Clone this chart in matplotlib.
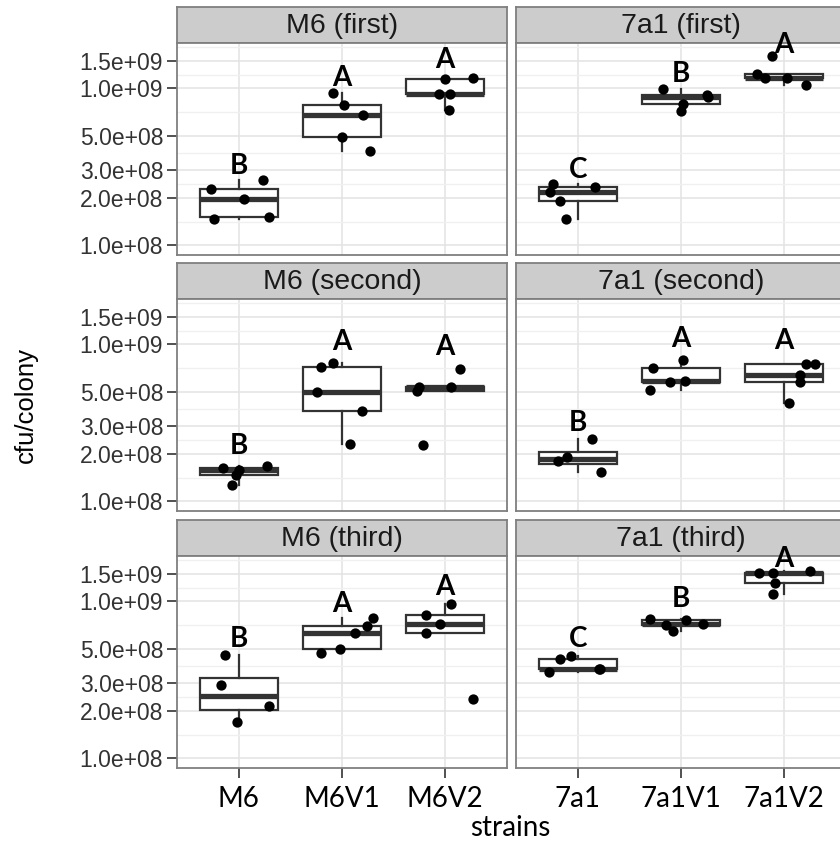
import numpy as np
import matplotlib
matplotlib.use("Agg")
import matplotlib.pyplot as plt
from matplotlib import cbook
from matplotlib.ticker import NullFormatter

# ---------------- data ----------------
strains_m6 = ["M6", "M6V1", "M6V2"]
strains_7a1 = ["7a1", "7a1V1", "7a1V2"]
experiments = ["first", "second", "third"]

# M6 group
m6_first = [[2.29e8, 2.59e8, 1.96e8, 1.46e8, 1.52e8],
            [9.40e8, 7.80e8, 6.78e8, 4.88e8, 3.99e8],
            [1.15e9, 1.16e9, 9.20e8, 9.22e8, 7.26e8]]
m6_first_jit = [[-0.27, 0.23, 0.05, -0.24, 0.29],
                [-0.09, 0.02, 0.20, 0.00, 0.27],
                [0.00, 0.27, -0.06, 0.05, 0.04]]
m6_first_letters = ["B", "A", "A"]
m6_first_letter_y = [3.22e8, 1.16e9, 1.53e9]

m6_second = [[1.63e8, 1.67e8, 1.57e8, 1.46e8, 1.26e8],
             [7.21e8, 7.64e8, 4.97e8, 3.75e8, 2.30e8],
             [6.92e8, 5.34e8, 5.08e8, 5.36e8, 2.28e8]]
m6_second_jit = [[-0.15, 0.27, 0.00, -0.03, -0.07],
                 [-0.20, -0.09, -0.24, 0.19, 0.08],
                 [0.14, -0.25, -0.27, 0.06, -0.21]]
m6_second_letters = ["B", "A", "A"]
m6_second_letter_y = [2.24e8, 1.03e9, 9.66e8]

m6_third = [[4.54e8, 2.93e8, 2.15e8, 1.71e8],
            [4.66e8, 4.95e8, 6.28e8, 6.97e8, 7.87e8],
            [9.66e8, 8.22e8, 7.21e8, 6.32e8, 2.37e8]]
m6_third_jit = [[-0.13, -0.17, 0.29, -0.02],
                [-0.20, -0.02, 0.13, 0.24, 0.30],
                [0.06, -0.19, -0.05, -0.19, 0.27]]
m6_third_letters = ["B", "A", "A"]
m6_third_letter_y = [5.80e8, 9.66e8, 1.23e9]

# 7a1 group
s7a1_first = [[2.47e8, 2.19e8, 2.35e8, 1.92e8, 1.47e8],
              [9.86e8, 9.10e8, 8.85e8, 7.93e8, 7.13e8],
              [1.60e9, 1.24e9, 1.16e9, 1.16e9, 1.05e9]]
s7a1_first_jit = [[-0.24, -0.27, 0.17, -0.17, -0.12],
                  [-0.17, 0.25, 0.26, 0.02, 0.00],
                  [-0.12, -0.26, -0.19, 0.03, 0.21]]
s7a1_first_letters = ["C", "B", "A"]
s7a1_first_letter_y = [3.00e8, 1.24e9, 1.90e9]

s7a1_second = [[2.50e8, 1.92e8, 1.80e8, 1.53e8],
               [7.03e8, 7.94e8, 5.74e8, 5.81e8, 5.11e8],
               [7.53e8, 7.55e8, 6.34e8, 5.74e8, 4.25e8]]
s7a1_second_jit = [[0.14, -0.11, -0.19, 0.22],
                   [-0.27, 0.02, -0.11, 0.04, -0.30],
                   [0.21, 0.30, 0.15, 0.15, 0.05]]
s7a1_second_letters = ["B", "A", "A"]
s7a1_second_letter_y = [3.16e8, 1.09e9, 1.05e9]

s7a1_third = [[4.28e8, 4.49e8, 3.56e8, 3.70e8, 3.73e8],
              [7.76e8, 7.03e8, 6.44e8, 7.57e8, 7.21e8],
              [1.52e9, 1.52e9, 1.57e9, 1.31e9, 1.12e9]]
s7a1_third_jit = [[-0.17, -0.07, -0.28, 0.21, 0.20],
                  [-0.30, -0.15, -0.08, 0.05, 0.21],
                  [-0.24, -0.11, 0.25, -0.09, -0.11]]
s7a1_third_letters = ["C", "B", "A"]
s7a1_third_letter_y = [5.73e8, 1.04e9, 1.87e9]

y_ticks = [1.0e8, 2.0e8, 3.0e8, 5.0e8, 1.0e9, 1.5e9]
y_tick_labels = ["1.0e+08", "2.0e+08", "3.0e+08", "5.0e+08", "1.0e+09", "1.5e+09"]
y_limits = (8.65e7, 1.95e9)

panels = [
    [("M6 (first)", strains_m6, m6_first, m6_first_jit, m6_first_letters, m6_first_letter_y),
     ("7a1 (first)", strains_7a1, s7a1_first, s7a1_first_jit, s7a1_first_letters, s7a1_first_letter_y)],
    [("M6 (second)", strains_m6, m6_second, m6_second_jit, m6_second_letters, m6_second_letter_y),
     ("7a1 (second)", strains_7a1, s7a1_second, s7a1_second_jit, s7a1_second_letters, s7a1_second_letter_y)],
    [("M6 (third)", strains_m6, m6_third, m6_third_jit, m6_third_letters, m6_third_letter_y),
     ("7a1 (third)", strains_7a1, s7a1_third, s7a1_third_jit, s7a1_third_letters, s7a1_third_letter_y)],
]

# ---------------- layout ----------------
W, H = 840, 848
fig = plt.figure(figsize=(W / 100, H / 100), dpi=100)


def rect(x0, top, w, h):
    return [x0 / W, 1 - (top + h) / H, w / W, h / H]


col_x = [177, 516]
panel_w = 330
panel_tops = [43, 299, 556]
panel_h = 212
strip_h = 36

HELV = ["Liberation Sans", "DejaVu Sans"]
CAL = ["Lato", "DejaVu Sans"]
border = "#7F7F7F"

# minor grid positions (geometric midpoints between major ticks, ggplot style)
logs = np.log10(y_ticks)
minor_logs = list((logs[:-1] + logs[1:]) / 2) + [logs[-1] + (logs[-1] - logs[-2]) / 2]
minor_vals = [10 ** v for v in minor_logs]

for r, row in enumerate(panels):
    for c, (title, cats, data, jit, letters, letter_y) in enumerate(row):
        # strip
        sax = fig.add_axes(rect(col_x[c], panel_tops[r] - strip_h, panel_w, strip_h))
        sax.set_facecolor("#CCCCCC")
        sax.set_xticks([])
        sax.set_yticks([])
        for sp in sax.spines.values():
            sp.set_color(border)
            sp.set_linewidth(1.3)
        sax.text(0.5, 0.47, title, ha="center", va="center", fontsize=20.5,
                 color="#1A1A1A", family=HELV, transform=sax.transAxes)
        sax.set_zorder(1)

        ax = fig.add_axes(rect(col_x[c], panel_tops[r], panel_w, panel_h))
        ax.set_zorder(2)
        ax.set_yscale("log")
        ax.set_ylim(*y_limits)
        ax.set_xlim(0.4, 3.6)
        positions = np.arange(1, len(cats) + 1)

        # boxplot stats computed on log10 scale (as ggplot with log10 scale)
        stats = []
        for vals in data:
            st = cbook.boxplot_stats(np.log10(vals), whis=1.5)[0]
            for k in ("med", "q1", "q3", "whislo", "whishi", "mean"):
                st[k] = 10 ** st[k]
            st["fliers"] = []
            stats.append(st)
        ax.bxp(stats, positions=positions, widths=0.75, showfliers=False,
               showcaps=False, patch_artist=True,
               boxprops=dict(facecolor="white", edgecolor="#333333", linewidth=1.6),
               medianprops=dict(color="#333333", linewidth=3.8, solid_capstyle="butt"),
               whiskerprops=dict(color="#333333", linewidth=1.6),
               zorder=2)

        for i, (vals, js) in enumerate(zip(data, jit)):
            ax.scatter(positions[i] + np.array(js), vals, s=55, color="black",
                       zorder=4, linewidths=0)

        for i, (lt, ly) in enumerate(zip(letters, letter_y)):
            ax.text(positions[i], ly, lt, ha="center", va="center", fontsize=20,
                    fontweight="bold", family=CAL, color="black",
                    clip_on=False, zorder=10)

        # grids
        ax.set_yticks(y_ticks)
        ax.set_yticks(minor_vals, minor=True)
        ax.yaxis.set_minor_formatter(NullFormatter())
        ax.set_xticks(positions)
        ax.grid(which="major", color="#E3E3E3", linewidth=1.1, zorder=0)
        ax.grid(which="minor", axis="y", color="#F0F0F0", linewidth=1.0, zorder=0)
        ax.set_axisbelow(True)
        ax.tick_params(which="minor", length=0)
        for sp in ax.spines.values():
            sp.set_color(border)
            sp.set_linewidth(1.3)

        if c == 0:
            ax.set_yticklabels(y_tick_labels, fontsize=16.5, color="#333333", family=HELV)
            ax.tick_params(axis="y", which="major", length=7, width=1.2,
                           color="#333333", pad=3)
        else:
            ax.set_yticklabels([])
            ax.tick_params(axis="y", which="major", length=0)
        if r == 2:
            ax.set_xticklabels(cats, fontsize=20, color="black", family=CAL)
            ax.tick_params(axis="x", length=7, width=1.2, color="#333333", pad=6)
        else:
            ax.set_xticklabels([])
            ax.tick_params(axis="x", length=0)

fig.text(510 / W, 1 - 828 / H, "strains", ha="center", va="center",
         fontsize=20, family=CAL, color="black")
fig.text(26 / W, 1 - 405 / H, "cfu/colony", ha="center", va="center",
         rotation=90, fontsize=18.5, family=HELV, color="black")

fig.savefig("out.png", dpi=100)
